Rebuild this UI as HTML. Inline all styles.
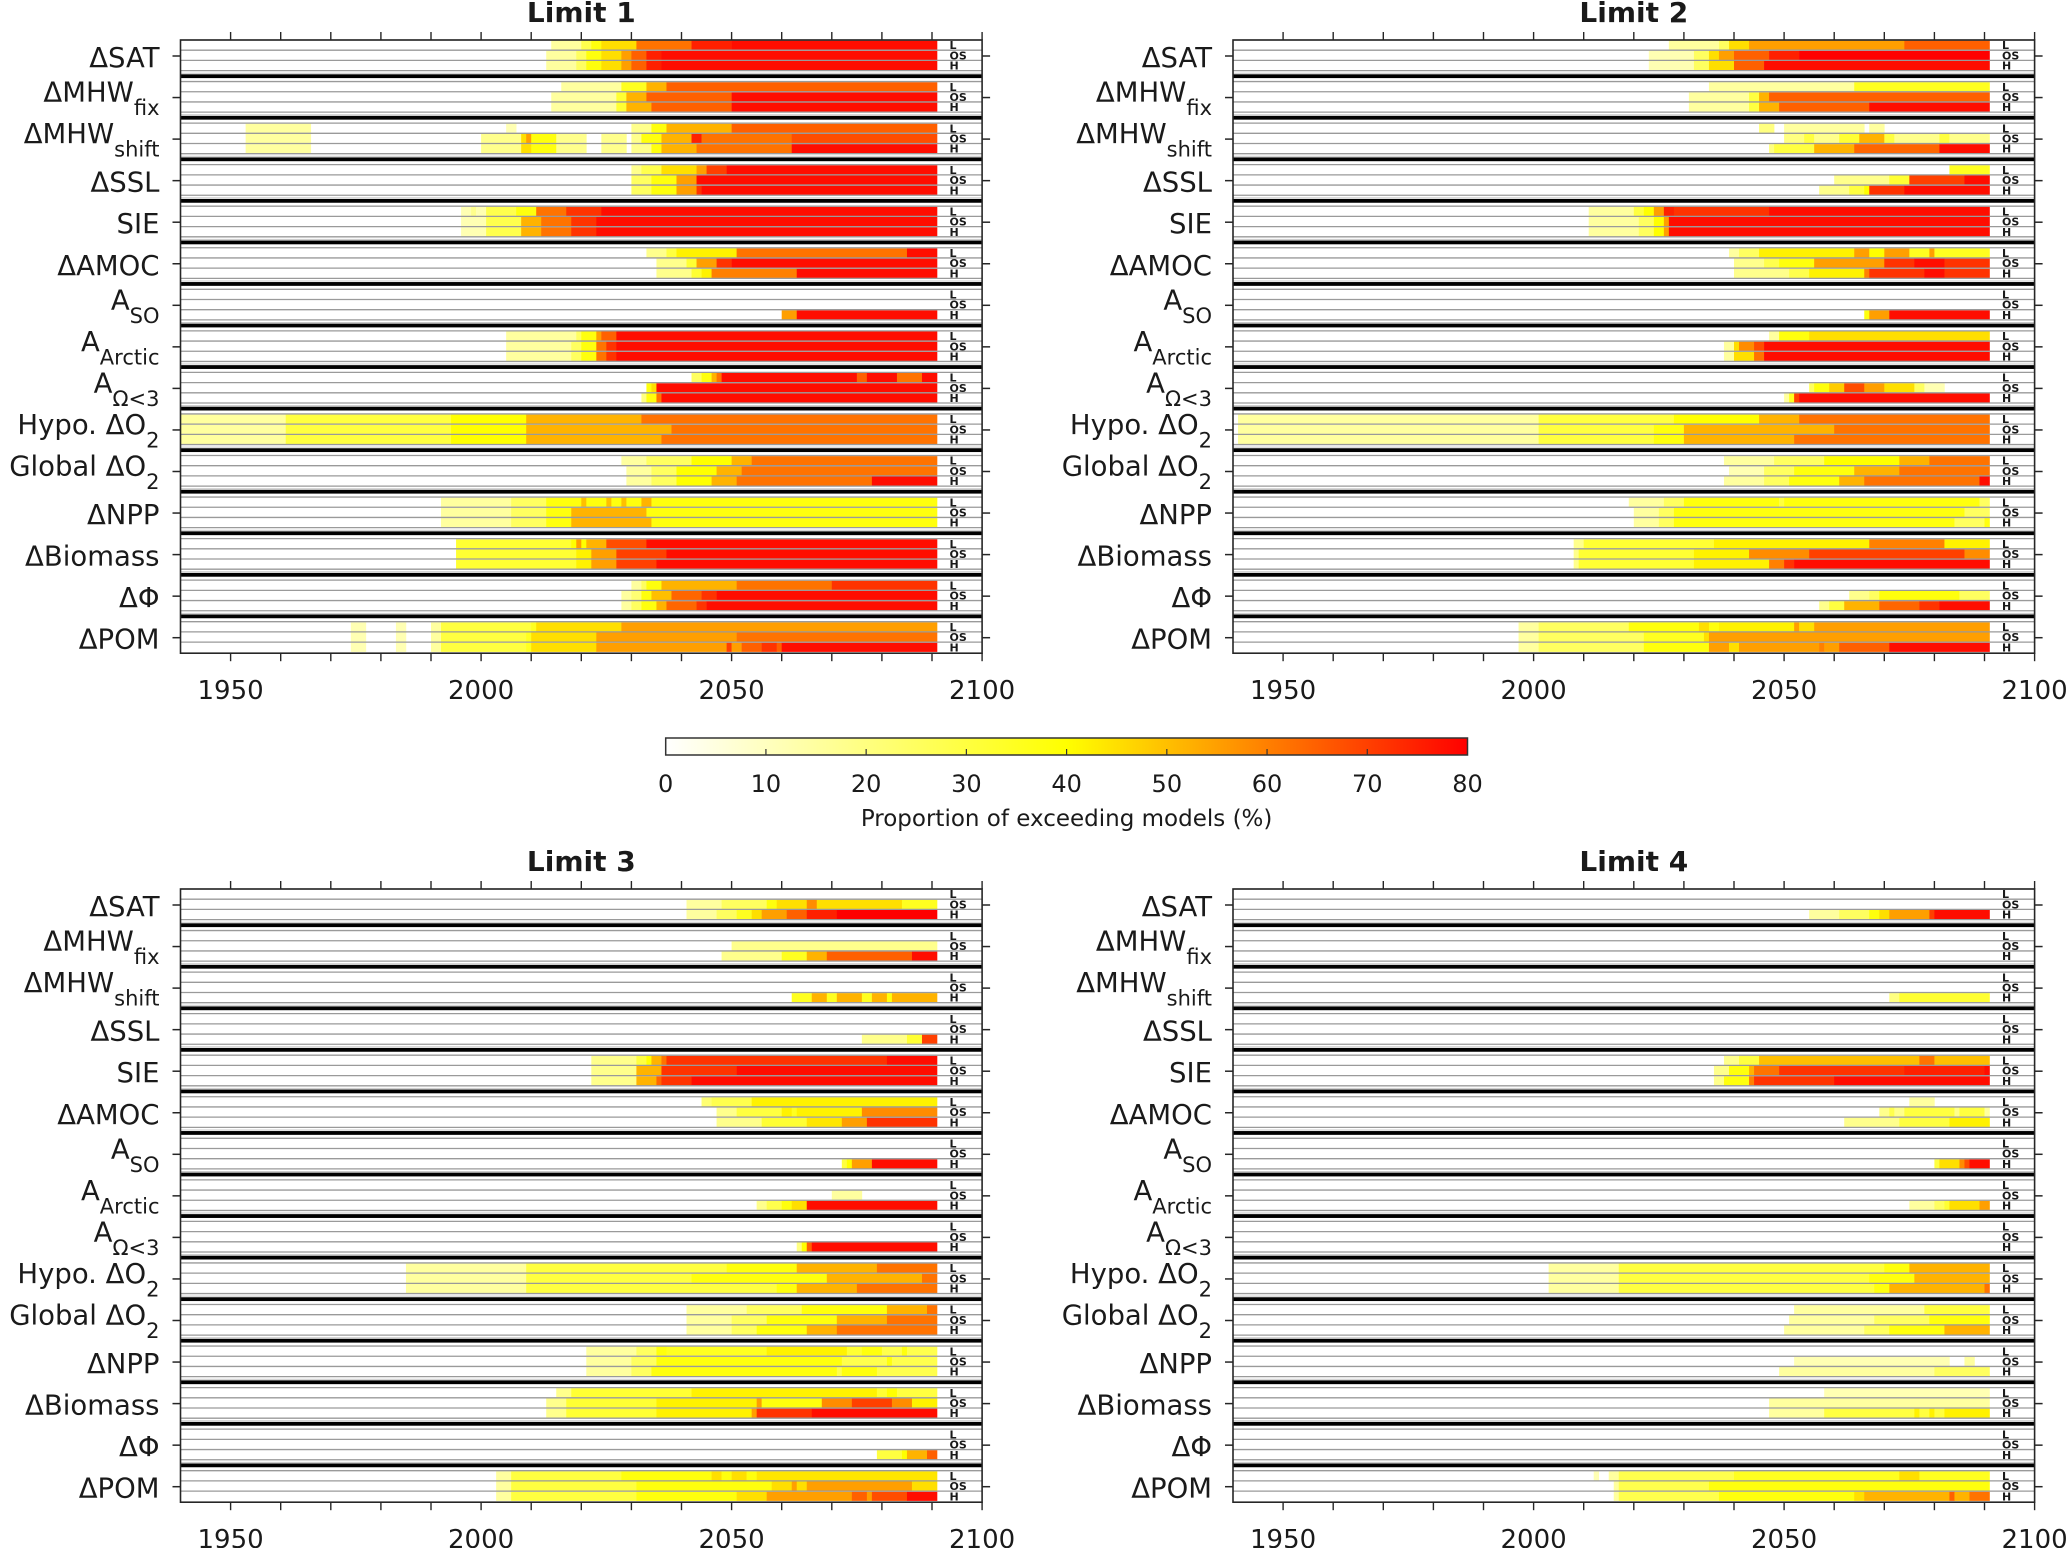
<!DOCTYPE html>
<html><head><meta charset="utf-8"><style>
html,body{margin:0;padding:0;background:#fff}
svg{display:block}
text{font-family:"DejaVu Sans","Liberation Sans",sans-serif;fill:#1a1a1a}
</style></head><body>
<svg id="fig" width="2067" height="1548" viewBox="0 0 2067 1548" xmlns="http://www.w3.org/2000/svg">
<defs><linearGradient id="cbg" x1="0" x2="1" y1="0" y2="0">
<stop offset="0" stop-color="#ffffff"/><stop offset="0.5" stop-color="#ffff00"/><stop offset="1" stop-color="#ff0000"/></linearGradient></defs>
</svg>
<script>
// ---- data: per panel, per row, per scenario (L, OS, H): [startYear, value, startYear, value, ...]
const rowLabels = [["ΔSAT",""],["ΔMHW","fix"],["ΔMHW","shift"],["ΔSSL",""],["SIE",""],["ΔAMOC",""],["A","SO"],["A","Arctic"],["A","Ω<3"],["Hypo. ΔO","2"],["Global ΔO","2"],["ΔNPP",""],["ΔBiomass",""],["ΔΦ",""],["ΔPOM",""]];
const panelTitles = ["Limit 1","Limit 2","Limit 3","Limit 4"];
const xTickLabels = [1950,2000,2050,2100];
const cbTicks = [0,10,20,30,40,50,60,70,80];
const scenarioLabels = ["L","OS","H"];
const endYear = 2091;

const limit1 = [
 [[2014,15,2020,28,2022,38,2024,45,2031,62,2042,75,2050,78],[2013,15,2019,25,2021,38,2024,45,2028,55,2030,65,2033,75,2036,78],[2013,15,2019,25,2021,38,2024,45,2028,55,2030,65,2033,75,2036,78]],
 [[2016,15,2028,35,2033,52,2037,65],[2014,15,2027,32,2029,52,2033,65,2050,78],[2014,15,2027,32,2029,52,2034,65,2050,78]],
 [[1953,15,1966,0,2005,12,2007,0,2030,18,2034,38,2037,52,2050,65],[1953,15,1966,0,2000,18,2008,45,2009,55,2010,38,2015,18,2021,0,2024,18,2029,0,2030,18,2032,38,2036,52,2042,75,2044,62,2062,68],[1953,15,1966,0,2000,18,2008,45,2010,38,2015,18,2021,0,2024,18,2029,0,2030,18,2034,38,2036,52,2043,62,2062,78]],
 [[2030,18,2032,28,2036,45,2043,55,2045,70,2049,78],[2030,25,2034,38,2039,55,2043,78],[2030,25,2034,38,2039,55,2043,72,2044,78]],
 [[1996,12,1998,18,1999,12,2001,28,2007,38,2011,62,2017,72,2024,78],[1996,12,2001,28,2008,52,2012,62,2018,72,2023,78],[1996,12,2001,28,2008,52,2012,62,2018,72,2023,78]],
 [[2033,18,2037,30,2039,42,2051,62,2085,78],[2035,18,2041,32,2043,55,2047,72,2050,78],[2035,18,2042,32,2044,42,2046,60,2063,78]],
 [[],[],[2060,55,2063,78]],
 [[2005,15,2019,25,2020,38,2023,55,2024,65,2027,78],[2005,15,2018,25,2020,38,2023,62,2025,72,2027,78],[2005,15,2018,25,2020,38,2023,62,2025,72,2027,78]],
 [[2042,25,2044,38,2046,52,2047,62,2048,78,2075,65,2077,78,2083,62,2088,78],[2033,38,2034,45,2035,78],[2032,20,2033,38,2035,62,2036,78]],
 [[1940,15,1961,30,1994,40,2009,52,2032,62],[1940,15,1961,30,1994,40,2009,52,2038,62],[1940,15,1961,30,1994,40,2009,52,2036,62]],
 [[2028,15,2033,25,2042,40,2050,52,2054,62],[2029,15,2034,25,2039,40,2047,52,2052,62],[2029,15,2034,25,2039,40,2046,52,2051,62,2078,78]],
 [[1992,15,2006,25,2013,38,2020,50,2021,38,2025,50,2026,38,2028,50,2029,38,2032,52,2034,38],[1992,15,2006,25,2013,38,2018,52,2033,38],[1992,15,2006,25,2013,38,2018,52,2034,38]],
 [[1995,32,2018,40,2019,55,2020,40,2021,52,2025,68,2033,78],[1995,32,2019,42,2022,55,2027,70,2037,78],[1995,32,2019,42,2022,55,2027,70,2035,78]],
 [[2030,15,2032,25,2033,38,2036,52,2051,62,2070,72],[2028,15,2030,22,2032,38,2034,50,2038,64,2044,72,2047,78],[2028,15,2030,25,2032,38,2035,52,2037,64,2043,72,2045,78]],
 [[1974,12,1977,0,1983,12,1985,0,1990,15,1992,30,2010,35,2011,45,2028,55],[1974,12,1977,0,1983,12,1985,0,1990,15,1992,30,2009,35,2010,45,2023,55,2051,62],[1974,12,1977,0,1983,12,1985,0,1990,15,1992,30,2009,35,2010,45,2023,55,2049,70,2050,55,2052,65,2056,72,2059,65,2060,78]]
];
const limit2 = [
 [[2027,15,2037,25,2039,45,2043,55,2074,65],[2023,12,2032,25,2035,45,2037,55,2040,65,2047,75,2053,80],[2023,12,2032,25,2035,45,2040,65,2046,78]],
 [[2035,15,2064,35],[2031,15,2043,30,2045,52,2047,65],[2031,15,2043,30,2045,52,2049,65,2067,78]],
 [[2045,20,2048,0,2050,15,2066,0,2067,15,2070,0],[2050,20,2054,30,2056,18,2061,32,2065,52,2070,30,2072,18,2081,30,2083,18],[2047,20,2048,30,2056,52,2064,64,2081,78]],
 [[2083,35],[2060,18,2071,32,2075,70,2086,78],[2057,18,2063,30,2066,40,2067,72,2074,78]],
 [[2011,15,2020,30,2022,40,2024,55,2026,75,2028,72,2047,78],[2011,15,2021,25,2024,40,2026,55,2027,78],[2011,15,2021,25,2024,40,2026,55,2027,78]],
 [[2039,15,2041,25,2045,42,2064,55,2067,40,2070,55,2075,35,2079,55,2080,35],[2040,18,2046,28,2049,38,2056,55,2070,72,2076,78,2082,72],[2040,18,2051,28,2055,42,2066,60,2067,72,2078,78,2082,72]],
 [[],[],[2066,38,2067,55,2071,78]],
 [[2047,15,2049,38,2055,45],[2038,15,2040,45,2041,58,2044,68,2046,78],[2038,15,2040,45,2044,62,2046,78]],
 [[],[2055,25,2056,38,2059,48,2062,68,2066,55,2070,45,2076,25,2078,12,2082,0],[2050,15,2051,35,2052,70,2053,78]],
 [[1941,15,2001,30,2028,40,2045,52,2053,62],[1941,15,2001,30,2024,38,2030,52,2060,62],[1941,15,2001,30,2024,38,2030,52,2052,62]],
 [[2038,15,2048,25,2058,40,2073,52,2079,62],[2039,12,2046,25,2052,38,2064,52,2073,62],[2038,15,2046,25,2051,38,2061,52,2066,62,2089,78]],
 [[2019,15,2026,25,2030,38,2049,30,2050,38,2089,25],[2020,15,2025,25,2028,38,2086,25],[2020,15,2025,25,2028,38,2084,25,2090,38]],
 [[2008,18,2010,32,2036,42,2067,60,2082,42],[2008,18,2009,32,2032,42,2043,58,2055,70,2086,58],[2008,18,2009,32,2032,42,2047,60,2050,72,2052,78]],
 [[],[2063,18,2067,25,2069,38,2085,25],[2057,18,2059,30,2062,52,2069,64,2077,72,2081,78]],
 [[1997,15,2001,25,2019,38,2033,45,2035,38,2037,42,2052,55,2053,45,2056,55],[1997,15,2001,25,2022,35,2034,45,2035,55],[1997,15,2001,25,2022,38,2035,55,2039,45,2041,55,2057,60,2058,55,2061,65,2071,78]]
];
const limit3 = [
 [[],[2041,15,2048,25,2057,38,2059,45,2065,58,2067,45,2084,35],[2041,15,2047,25,2051,35,2054,45,2056,55,2061,65,2065,75,2071,80]],
 [[],[2050,18],[2048,18,2060,35,2065,52,2069,65,2086,78]],
 [[],[],[2062,35,2066,52,2069,35,2071,52,2076,35,2078,52,2081,38,2082,52]],
 [[],[],[2076,18,2085,32,2088,70]],
 [[2022,18,2031,30,2033,40,2034,52,2036,62,2037,72,2081,78],[2022,18,2031,52,2036,72,2051,78],[2022,18,2031,52,2035,64,2036,72,2042,78]],
 [[2044,22,2046,28,2054,42],[2047,18,2051,30,2060,42,2062,35,2063,42,2076,58],[2047,18,2056,32,2065,44,2072,55,2077,72]],
 [[],[],[2072,30,2073,40,2074,55,2078,78]],
 [[],[2070,15,2076,0],[2055,18,2057,28,2060,38,2062,45,2065,78]],
 [[],[],[2063,20,2064,40,2065,65,2066,78]],
 [[1985,15,2009,30,2049,38,2063,52,2079,62],[1985,15,2009,30,2042,38,2069,52,2088,62],[1985,15,2009,30,2059,38,2063,52,2075,62]],
 [[2041,15,2053,25,2064,38,2081,52,2089,62],[2041,15,2050,25,2057,38,2071,52,2081,62],[2041,15,2050,25,2055,38,2065,52,2071,62]],
 [[2021,15,2031,25,2035,38,2037,35,2057,42,2073,32,2076,38,2080,28,2084,38,2085,28],[2021,15,2030,25,2035,38,2072,28,2081,38,2082,28],[2021,15,2030,25,2034,38,2071,28,2072,38,2079,28]],
 [[2015,18,2018,32,2042,42,2079,32,2081,40,2083,30],[2013,18,2017,32,2035,42,2055,55,2056,38,2068,58,2074,70,2082,58,2086,42],[2013,18,2017,32,2035,42,2054,55,2055,72,2066,78]],
 [[],[],[2079,30,2084,40,2085,52,2089,65]],
 [[2003,15,2006,30,2028,38,2046,45,2048,38,2050,45,2053,38,2055,44],[2003,15,2006,30,2031,38,2058,45,2062,55,2063,45,2065,55,2086,45],[2003,15,2006,30,2031,38,2051,45,2057,55,2074,65,2077,55,2078,68,2085,78]]
];
const limit4 = [
 [[],[],[2055,15,2061,25,2067,38,2069,45,2071,55,2079,70,2080,78]],
 [[],[],[]],
 [[],[],[2071,20,2073,32]],
 [[],[],[]],
 [[2038,18,2041,30,2045,50,2077,62,2080,50],[2036,18,2039,38,2043,52,2044,62,2049,72,2074,75,2090,78],[2036,18,2038,38,2043,60,2044,72,2060,78]],
 [[2075,15,2080,0],[2069,18,2071,28,2072,18,2074,30,2084,18,2085,30,2090,15],[2062,18,2073,30,2083,42]],
 [[],[],[2080,30,2081,45,2085,58,2086,68,2087,78]],
 [[],[],[2075,15,2080,25,2082,32,2083,45,2089,55]],
 [[],[],[]],
 [[2003,15,2017,30,2070,38,2075,52],[2003,15,2017,30,2067,38,2076,52],[2003,15,2017,30,2068,38,2071,52,2090,62]],
 [[2052,15,2078,30],[2051,15,2068,25,2079,38],[2050,15,2066,25,2071,38,2082,52]],
 [[],[2052,12,2083,0,2086,15,2088,0],[2049,15,2080,25]],
 [[2058,12],[2047,15],[2047,15,2058,30,2076,42,2077,30,2079,42,2080,30,2082,42]],
 [[],[],[]],
 [[2012,12,2013,0,2015,15,2017,28,2040,35,2073,45,2077,35],[2016,15,2017,28,2035,38],[2016,15,2017,28,2037,38,2064,45,2066,52,2083,65,2084,52,2087,62]]
];
const limits = [limit1, limit2, limit3, limit4];

// ---- layout
const NS = "http://www.w3.org/2000/svg";
const svg = document.getElementById("fig");
const panelLeft = [180.5, 1233, 180.5, 1233];
const panelTop = [40, 40, 889, 889];
const PXY = 5.01, Y0 = 1940, Y1 = 2100, PITCH = 41.55;
function xScale(p, yr){ return panelLeft[p] + (yr - Y0) * PXY; }
function colorOf(v){
  let g, b;
  if (v <= 40){ g = 255; b = Math.round(255 * (40 - v) / 40); }
  else { g = Math.round(255 * Math.max(0, 80 - v) / 40); b = 0; }
  return "rgb(255," + g + "," + b + ")";
}
function mk(tag, attrs, parent){
  const e = document.createElementNS(NS, tag);
  for (const k in attrs) e.setAttribute(k, attrs[k]);
  (parent || svg).appendChild(e);
  return e;
}
const subTops = [0.6, 10.8, 21.0];
const subH = 9.2;

for (let p = 0; p < 4; p++){
  const g = mk("g", {});
  
  
  const L = panelLeft[p], R = xScale(p, Y1), T = panelTop[p];
  const B = T + 14 * PITCH + 31.5;
  const tt = mk("text", {x: (L + R) / 2, y: T - 18, "text-anchor": "middle", "font-size": 28, "font-weight": "bold"}, g);
  tt.textContent = panelTitles[p];
  
  
  const data = limits[p];
  for (let r = 0; r < 15; r++){
    const t = T + r * PITCH;
    for (let s = 0; s < 3; s++){
      const arr = data[r][s];
      for (let i = 0; i < arr.length; i += 2){
        const v = arr[i + 1];
        if (v <= 0) continue;
        const y0 = arr[i], y1 = (i + 2 < arr.length) ? arr[i + 2] : endYear;
        const rect = mk("rect", {x: xScale(p, y0), y: t + subTops[s], width: Math.max(0, xScale(p, y1) - xScale(p, y0)) + 0.3, height: subH, fill: colorOf(v)}, g);
        
        
      }
    }
    [0, 10.2, 20.4, 30.6].forEach(d => {
      if (r === 14 && d === 30.6) return;
      mk("line", {x1: L, x2: R, y1: t + d, y2: t + d, stroke: "#9a9a9a", "stroke-width": 1.3}, g);
    });
    if (r < 14){
      mk("line", {x1: L, x2: R, y1: t + 33.2, y2: t + 33.2, stroke: "#c8c8c8", "stroke-width": 1}, g);
      const band = mk("rect", {x: L, y: t + 34.3, width: R - L, height: 3.8, fill: "#000"}, g);
      
      
    }
    for (let s = 0; s < 3; s++){
      const sl = mk("text", {x: xScale(p, endYear) + 12.5, y: t + subTops[s] + 8.6, "font-size": 11, "font-weight": "bold"}, g);
      sl.textContent = scenarioLabels[s];
      
      
    }
    mk("line", {x1: L - 8, x2: L, y1: t + 16, y2: t + 16, stroke: "#262626", "stroke-width": 1.5}, g);
    mk("line", {x1: R, x2: R + 8, y1: t + 16, y2: t + 16, stroke: "#262626", "stroke-width": 1.5}, g);
    const lab = rowLabels[r];
    const lt = mk("text", {x: L - 21, y: lab[1] ? t + 20 : t + 27, "text-anchor": "end", "font-size": 27.5}, g);
    
    
    const m = document.createElementNS(NS, "tspan"); m.textContent = lab[0]; lt.appendChild(m);
    if (lab[1]){
      const sb = document.createElementNS(NS, "tspan");
      sb.setAttribute("font-size", 21); sb.setAttribute("dy", 13.5); sb.textContent = lab[1];
      lt.appendChild(sb);
    }
  }
  const box = mk("rect", {x: L, y: T, width: R - L, height: B - T, fill: "none", stroke: "#262626", "stroke-width": 1.6}, g);
  
  
  for (let yr = 1950; yr <= 2100; yr += 10){
    const x = xScale(p, yr);
    mk("line", {x1: x, x2: x, y1: T - 8, y2: T, stroke: "#262626", "stroke-width": 1.4}, g);
    mk("line", {x1: x, x2: x, y1: B, y2: B + 8, stroke: "#262626", "stroke-width": 1.4}, g);
  }
  xTickLabels.forEach(yr => {
    const tl = mk("text", {x: xScale(p, yr), y: B + 46, "text-anchor": "middle", "font-size": 26}, g);
    tl.textContent = yr;
    
    
  });
}

// ---- colorbar
const cbL = 665.7, cbR = 1467.5, cbT = 738, cbB = 755, cbMax = 80;
const cb = mk("rect", {x: cbL, y: cbT, width: cbR - cbL, height: cbB - cbT, fill: "url(#cbg)", stroke: "#333", "stroke-width": 1.5});


cbTicks.forEach(v => {
  const x = cbL + (cbR - cbL) * v / cbMax;
  if (v > 0 && v < cbMax) mk("line", {x1: x, x2: x, y1: cbB - 6, y2: cbB, stroke: "#333", "stroke-width": 1.2});
  const t = mk("text", {x: x, y: 792, "text-anchor": "middle", "font-size": 24});
  t.textContent = v;
  
  
});
const cbt = mk("text", {x: (cbL + cbR) / 2, y: 826, "text-anchor": "middle", "font-size": 23});
cbt.textContent = "Proportion of exceeding models (%)";


</script>
</body></html>
